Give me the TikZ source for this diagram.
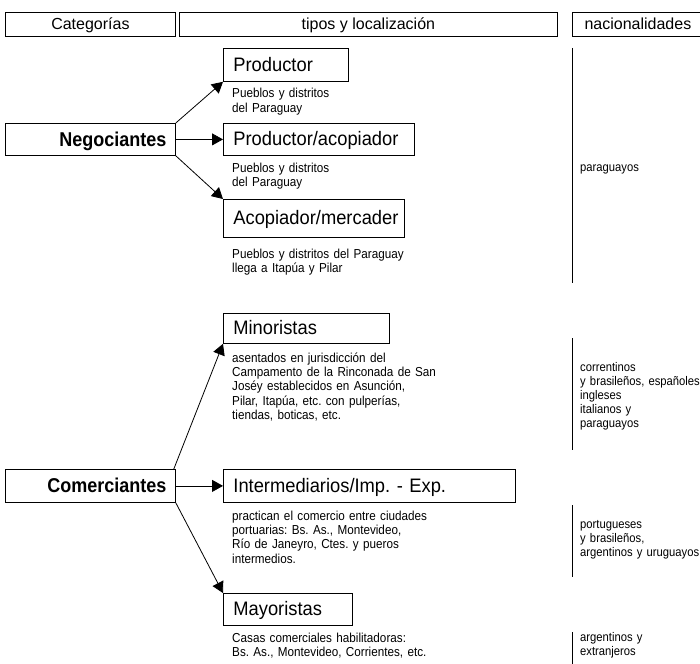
\documentclass[tikz,border=0pt]{standalone}
\usepackage{fontspec}
\setmainfont{Liberation Sans}
\newfontfamily\condbf[FakeStretch=0.9]{Liberation Sans Bold}
\newfontfamily\condti[FakeStretch=0.94]{Liberation Sans}
\newfontfamily\condsm[FakeStretch=0.9]{Liberation Sans}
\usetikzlibrary{arrows.meta}
\tikzset{
  box/.style={draw, line width=0.8pt, inner sep=0pt, anchor=north west},
  hdr/.style={box, font=\fontsize{16}{18}\selectfont, align=center, text height=12pt, text depth=1pt},
  titlebox/.style={box, font=\condti\fontsize{19.5}{22}\selectfont, inner xsep=10pt, align=left, text height=14pt, text depth=1pt},
  catbox/.style={box, font=\condbf\fontsize{20}{22}\selectfont, inner xsep=9pt, align=right, text height=14.5pt, text depth=0.5pt},
  small/.style={anchor=base west, inner sep=0pt, font=\condsm\fontsize{13}{14.4}\selectfont, text width=300pt, align=left},
  nat/.style={anchor=base west, inner sep=0pt, font=\condsm\fontsize{12.5}{14}\selectfont, text width=200pt, align=left},
  arr/.style={line width=0.8pt, -{Triangle[length=11pt,width=12pt]}},
  vline/.style={line width=0.9pt}
}
\begin{document}
\frenchspacing
\begin{tikzpicture}[x=1pt,y=-1pt]
\useasboundingbox (0,0) rectangle (700,663);
% headers
\node[hdr, minimum width=170pt, minimum height=24pt] (cat) at (5,12) {Categorías};
\node[hdr, minimum width=378pt, minimum height=24pt] (tip) at (179,12) {tipos y localización};
\node[hdr, minimum width=131pt, minimum height=24pt] (nac) at (572,12) {nacionalidades};
% category boxes
\node[catbox, minimum width=170pt, minimum height=32pt, text width=152pt] (neg) at (5,123) {Negociantes};
\node[catbox, minimum width=170pt, minimum height=33pt, text width=152pt] (com) at (5,469) {Comerciantes};
% type boxes
\node[titlebox, minimum width=125pt, minimum height=33pt, text width=105pt] (prod) at (223,48) {Productor};
\node[titlebox, minimum width=191pt, minimum height=32pt, text width=171pt] (proac) at (223,123) {Productor/acopiador};
\node[titlebox, minimum width=181pt, minimum height=38pt, text width=161pt] (acop) at (223,199) {Acopiador/mercader};
\node[titlebox, minimum width=166pt, minimum height=30pt, text width=146pt] (mino) at (223,313) {Minoristas};
\node[titlebox, minimum width=292pt, minimum height=33pt, text width=272pt] (inter) at (223,469) {Intermediarios/Imp. - Exp.};
\node[titlebox, minimum width=129pt, minimum height=32pt, text width=109pt] (mayo) at (223,593) {Mayoristas};
% descriptions
\node[small] (t1) at (232,98) {Pueblos y distritos\\del Paraguay};
\node[small] (t2) at (232,172) {Pueblos y distritos\\del Paraguay};
\node[small] (t3) at (232,258) {Pueblos y distritos del Paraguay\\llega a Itapúa y Pilar};
\node[small] (t4) at (232,362) {asentados en jurisdicción del\\Campamento de la Rinconada de San\\Joséy establecidos en Asunción,\\Pilar, Itapúa, etc. con pulperías,\\tiendas, boticas, etc.};
\node[small] (t5) at (232,520) {practican el comercio entre ciudades\\portuarias: Bs. As., Montevideo,\\Río de Janeyro, Ctes. y pueros\\intermedios.};
\node[small] (t6) at (232,642) {Casas comerciales habilitadoras:\\Bs. As., Montevideo, Corrientes, etc.};
% nationalities
\node[nat] (n1) at (580,171) {paraguayos};
\node[nat] (n2) at (580,371) {correntinos\\y brasileños, españoles\\ingleses\\italianos y\\paraguayos};
\node[nat] (n3) at (580,528) {portugueses\\y brasileños,\\argentinos y uruguayos};
\node[nat] (n4) at (580,641) {argentinos y\\extranjeros};
\draw[vline] (572,48) -- (572,283);
\draw[vline] (572,338) -- (572,450);
\draw[vline] (572,505) -- (572,577);
\draw[vline] (572,632) -- (572,665);
% arrows
\draw[arr] (neg.north east) -- (prod.south west);
\draw[arr] (neg.east) -- (proac.west);
\draw[arr] (neg.south east) -- (acop.north west);
\draw[arr] ([xshift=-2pt]com.north east) -- (mino.south west);
\draw[arr] (com.east) -- (inter.west);
\draw[arr] (com.south east) -- (mayo.north west);
\end{tikzpicture}
\end{document}
